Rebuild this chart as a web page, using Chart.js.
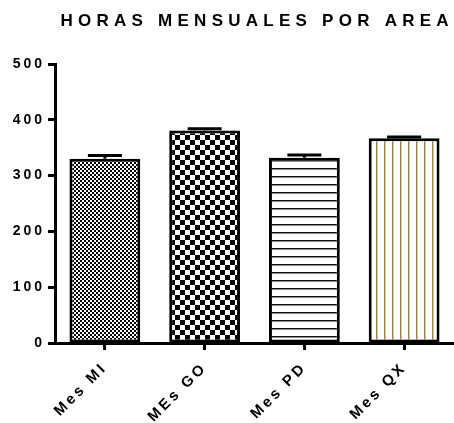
<!DOCTYPE html>
<html>
<head>
<meta charset="utf-8">
<script src="https://cdn.jsdelivr.net/npm/chart.js@4.4.1/dist/chart.umd.min.js"></script>
<style>
  html, body { margin: 0; padding: 0; background: #ffffff; }
  canvas { display: block; }
</style>
</head>
<body>
<canvas id="chart" width="454" height="423"></canvas>
<script>
// Monthly hours per area: mean and upper error (SEM)
const categories = ['Mes MI', 'MEs GO', 'Mes PD', 'Mes QX'];
const meanHours = [330, 381, 332, 367];
const errHours = [6, 3, 5, 2];
const yTicks = [0, 100, 200, 300, 400, 500];
const chartTitle = 'HORAS MENSUALES POR AREA';

const FONT = "'Liberation Sans', Arial, sans-serif";
const canvas = document.getElementById('chart');
const ctx = canvas.getContext('2d');

// Small repeating fills for each bar
function tile(w, h, paint) {
  const c = document.createElement('canvas');
  c.width = w; c.height = h;
  const g = c.getContext('2d');
  g.fillStyle = '#ffffff';
  g.fillRect(0, 0, w, h);
  paint(g);
  return ctx.createPattern(c, 'repeat');
}
const fineChecker = tile(4, 4, g => {
  g.fillStyle = '#000';
  g.fillRect(0, 0, 2, 2);
  g.fillRect(2, 2, 2, 2);
});
const coarseChecker = tile(10, 10, g => {
  g.fillStyle = '#000';
  g.fillRect(0, 0, 5, 5);
  g.fillRect(5, 5, 5, 5);
});
const horizLines = tile(1, 8, g => {
  g.fillStyle = '#111';
  g.fillRect(0, 0, 1, 1);
  g.fillStyle = '#8a8a8a';
  g.fillRect(0, 1, 1, 1);
});
const vertLines = tile(8, 1, g => {
  g.fillStyle = '#9a8648';
  g.fillRect(0, 0, 1, 1);
  g.fillStyle = '#d4c99c';
  g.fillRect(1, 0, 1, 1);
});
const fills = [fineChecker, coarseChecker, horizLines, vertLines];

// Spaced-out lettering for axis text
const letterSpacingPlugin = {
  id: 'letterSpacing',
  beforeUpdate(chart) { chart.ctx.letterSpacing = '3px'; },
  beforeDraw(chart) { chart.ctx.letterSpacing = '3px'; }
};

// Upper error bars with caps
const errorBarPlugin = {
  id: 'errorBars',
  afterDatasetsDraw(chart) {
    const meta = chart.getDatasetMeta(0);
    const yScale = chart.scales.y;
    const c = chart.ctx;
    c.save();
    c.strokeStyle = '#000';
    c.lineWidth = 3;
    c.lineCap = 'butt';
    meta.data.forEach((bar, i) => {
      const yTop = yScale.getPixelForValue(meanHours[i] + errHours[i]);
      const yMean = yScale.getPixelForValue(meanHours[i]);
      c.beginPath();
      c.moveTo(bar.x, yMean);
      c.lineTo(bar.x, yTop);
      c.moveTo(bar.x - 17, yTop);
      c.lineTo(bar.x + 17, yTop);
      c.stroke();
    });
    c.restore();
  }
};

// Title centred over the plot area, letters spread to a fixed width
const titlePlugin = {
  id: 'spacedTitle',
  afterDraw(chart) {
    const c = chart.ctx;
    const area = chart.chartArea;
    const span = 388;
    c.save();
    c.font = 'bold 17px ' + FONT;
    c.letterSpacing = '0px';
    const plain = c.measureText(chartTitle).width;
    const spacing = (span - plain) / (chartTitle.length - 1);
    c.letterSpacing = spacing.toFixed(2) + 'px';
    c.fillStyle = '#000';
    c.textBaseline = 'middle';
    c.textAlign = 'left';
    c.fillText(chartTitle, (area.left + area.right) / 2 - span / 2, 21);
    c.restore();
  }
};

new Chart(ctx, {
  type: 'bar',
  data: {
    labels: categories,
    datasets: [{
      data: meanHours,
      backgroundColor: fills,
      borderColor: '#000',
      borderWidth: 3,
      borderSkipped: false,
      barPercentage: 0.71,
      categoryPercentage: 1
    }]
  },
  options: {
    responsive: false,
    animation: false,
    devicePixelRatio: 1,
    layout: { padding: { top: 64, right: 0, bottom: 0, left: 0 } },
    plugins: {
      legend: { display: false },
      title: { display: false },
      tooltip: { enabled: false }
    },
    scales: {
      x: {
        offset: true,
        border: { display: true, color: '#000', width: 3 },
        grid: {
          display: true,
          drawOnChartArea: false,
          drawTicks: true,
          tickLength: 7,
          tickWidth: 3,
          tickColor: '#000',
          offset: false
        },
        ticks: {
          color: '#000',
          font: { family: FONT, size: 15, weight: 'bold' },
          minRotation: 45,
          maxRotation: 45,
          padding: 9,
          autoSkip: false
        },
        afterFit(scale) { scale.height = 80; }
      },
      y: {
        min: 0,
        max: 500,
        afterBuildTicks(scale) { scale.ticks = yTicks.map(v => ({ value: v })); },
        border: { display: true, color: '#000', width: 3 },
        grid: {
          display: true,
          drawOnChartArea: false,
          drawTicks: true,
          tickLength: 7,
          tickWidth: 3,
          tickColor: '#000'
        },
        ticks: {
          color: '#000',
          font: { family: FONT, size: 14, weight: 'bold' },
          padding: 3
        },
        afterFit(scale) { scale.width = 55; }
      }
    }
  },
  plugins: [letterSpacingPlugin, errorBarPlugin, titlePlugin]
});
</script>
</body>
</html>
